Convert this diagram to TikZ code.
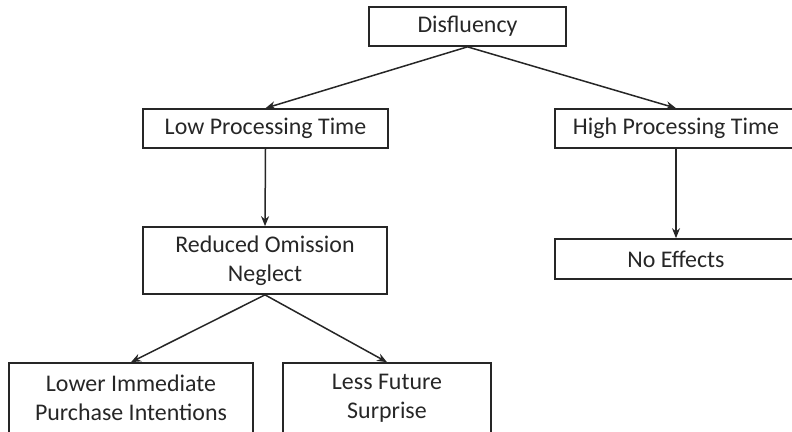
\documentclass[tikz,border=0pt]{standalone}
\usepackage{fontspec}
\setmainfont{Carlito}
\usetikzlibrary{arrows.meta}
\begin{document}
\begin{tikzpicture}[
    x=1bp,y=-1bp,
    font=\fontsize{24}{29}\selectfont,
    box/.style={rectangle,draw=black!85,line width=1.7bp,text=black!85,inner sep=0pt,align=center,minimum height=39bp},
    arr/.style={-{Stealth[length=10bp,width=8bp]},draw=black!85,line width=1.5bp}
]
    \useasboundingbox (0,0) rectangle (792,431);

    \node[box,minimum width=197bp] (dis) at (467.5,26.5) {Disfluency};

    \node[box,minimum width=245bp] (low) at (265.5,128.5) {Low Processing Time};
    \node[box,minimum width=242bp] (high) at (676,128.5) {High Processing Time};
    \draw[arr] (dis.south) -- (low.north);
    \draw[arr] (dis.south) -- (high.north);

    \node[box,minimum width=244bp,minimum height=67bp] (red) at (265,260.5) {Reduced Omission\\Neglect};
    \node[box,minimum width=242bp,minimum height=40bp] (noeff) at (676,259) {No Effects};
    \draw[arr] (low.south) -- (red.north);
    \draw[arr] (high.south) -- (noeff.north);

    \node[box,minimum width=244bp,minimum height=70bp] (lower) at (131,398) {Lower Immediate\\Purchase Intentions};
    \node[box,minimum width=208bp,minimum height=70bp] (less) at (387,398) {Less Future\\Surprise};
    \draw[arr] (red.south) -- (lower.north);
    \draw[arr] (red.south) -- (less.north);
\end{tikzpicture}
\end{document}
